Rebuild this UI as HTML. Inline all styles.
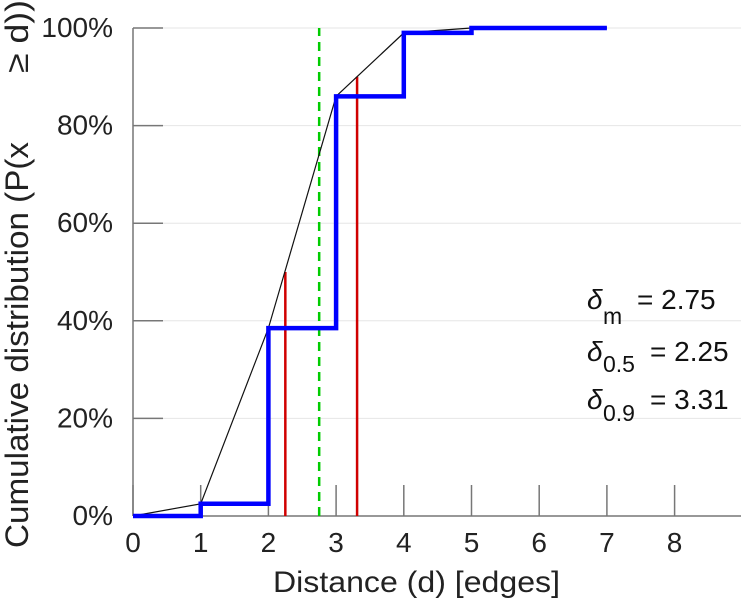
<!DOCTYPE html>
<html><head><meta charset="utf-8"><style>
html,body{margin:0;padding:0;background:#fff}
svg{display:block;font-family:"Liberation Sans",sans-serif}
</style></head><body>
<svg id="chart" width="747" height="600" viewBox="0 0 747 600">
<g id="grid"></g><g id="axes"></g><g id="marks"></g>
<g font-size="28" fill="#111">
<text x="587" y="309" font-style="italic">δ</text>
<text x="603" y="324" font-size="23">m</text>
<text x="637" y="309">= 2.75</text>
<text x="587" y="361" font-style="italic">δ</text>
<text x="603" y="372" font-size="23">0.5</text>
<text x="650" y="361">= 2.25</text>
<text x="587" y="409" font-style="italic">δ</text>
<text x="603" y="421" font-size="23">0.9</text>
<text x="650" y="409">= 3.31</text>
</g>
<text x="273" y="592" font-size="30" textLength="287" lengthAdjust="spacingAndGlyphs" fill="#222">Distance (d) [edges]</text>
<g transform="translate(28,548) rotate(-90)" fill="#222" font-size="32">
<text x="0" y="0" textLength="406" lengthAdjust="spacingAndGlyphs">Cumulative distribution (P(x</text>
<text x="475" y="0" textLength="73" lengthAdjust="spacingAndGlyphs">≥ d))</text>
</g>
</svg>
<script>
const xTicks=[0,1,2,3,4,5,6,7,8];
const yTicks=[0,20,40,60,80,100];
const stepX=[0,1,2,3,4,5,6,7];
const stepY=[0,2.5,38.5,86,99,100,100,100];
const medianX=2.75;
const q50=2.25, q50Top=50;
const q90=3.31, q90Top=90;
const X0=133,KX=67.7,Y0=516,KY=4.88;
const sx=v=>X0+v*KX, sy=v=>Y0-v*KY;
const NS="http://www.w3.org/2000/svg";
function mk(tag,attrs,parent){const e=document.createElementNS(NS,tag);for(const k in attrs)e.setAttribute(k,attrs[k]);parent.appendChild(e);return e;}
const grid=document.getElementById('grid'),axes=document.getElementById('axes'),marks=document.getElementById('marks');
yTicks.forEach(t=>{
 if(t>0){const g=mk('line',{x1:X0,x2:741,y1:sy(t),y2:sy(t),stroke:'#e6e6e6','stroke-width':1},grid);
 
 }
 const tk=mk('line',{x1:X0,x2:X0+30,y1:sy(t),y2:sy(t),stroke:'#777','stroke-width':1.5},axes);
 
 
 const tx=mk('text',{x:X0-20,y:sy(t)+9,'text-anchor':'end','font-size':28,fill:'#222'},axes);
 tx.textContent=t+'%';
 
 
});
xTicks.forEach(t=>{
 const tk=mk('line',{x1:sx(t),x2:sx(t),y1:Y0,y2:Y0-31,stroke:'#777','stroke-width':1.5},axes);
 
 
 const tx=mk('text',{x:sx(t),y:552,'text-anchor':'middle','font-size':28,fill:'#222'},axes);
 tx.textContent=t;
 
 
});
const ya=mk('line',{x1:X0,x2:X0,y1:sy(100),y2:Y0,stroke:'#777','stroke-width':1.5},axes);


const xa=mk('line',{x1:X0,x2:741,y1:Y0,y2:Y0,stroke:'#777','stroke-width':1.5},axes);


const r1=mk('line',{x1:sx(q50),x2:sx(q50),y1:Y0,y2:sy(q50Top),stroke:'#d00000','stroke-width':2.5},marks);


const r2=mk('line',{x1:sx(q90),x2:sx(q90),y1:Y0,y2:sy(q90Top),stroke:'#d00000','stroke-width':2.5},marks);


const gl=mk('line',{x1:sx(medianX),x2:sx(medianX),y1:Y0,y2:sy(100),stroke:'#00cc00','stroke-width':2.5,'stroke-dasharray':'9,6'},marks);


const lp=stepX.map((x,i)=>sx(x)+','+sy(stepY[i])).join(' ');
const bl=mk('polyline',{points:lp,fill:'none',stroke:'#111','stroke-width':1.2},marks);


let d='M'+sx(stepX[0])+','+sy(stepY[0]);
for(let i=1;i<stepX.length;i++){d+=' L'+sx(stepX[i])+','+sy(stepY[i-1])+' L'+sx(stepX[i])+','+sy(stepY[i]);}
const st=mk('path',{d:d,fill:'none',stroke:'#0000ff','stroke-width':4.5},marks);


</script>
</body></html>
